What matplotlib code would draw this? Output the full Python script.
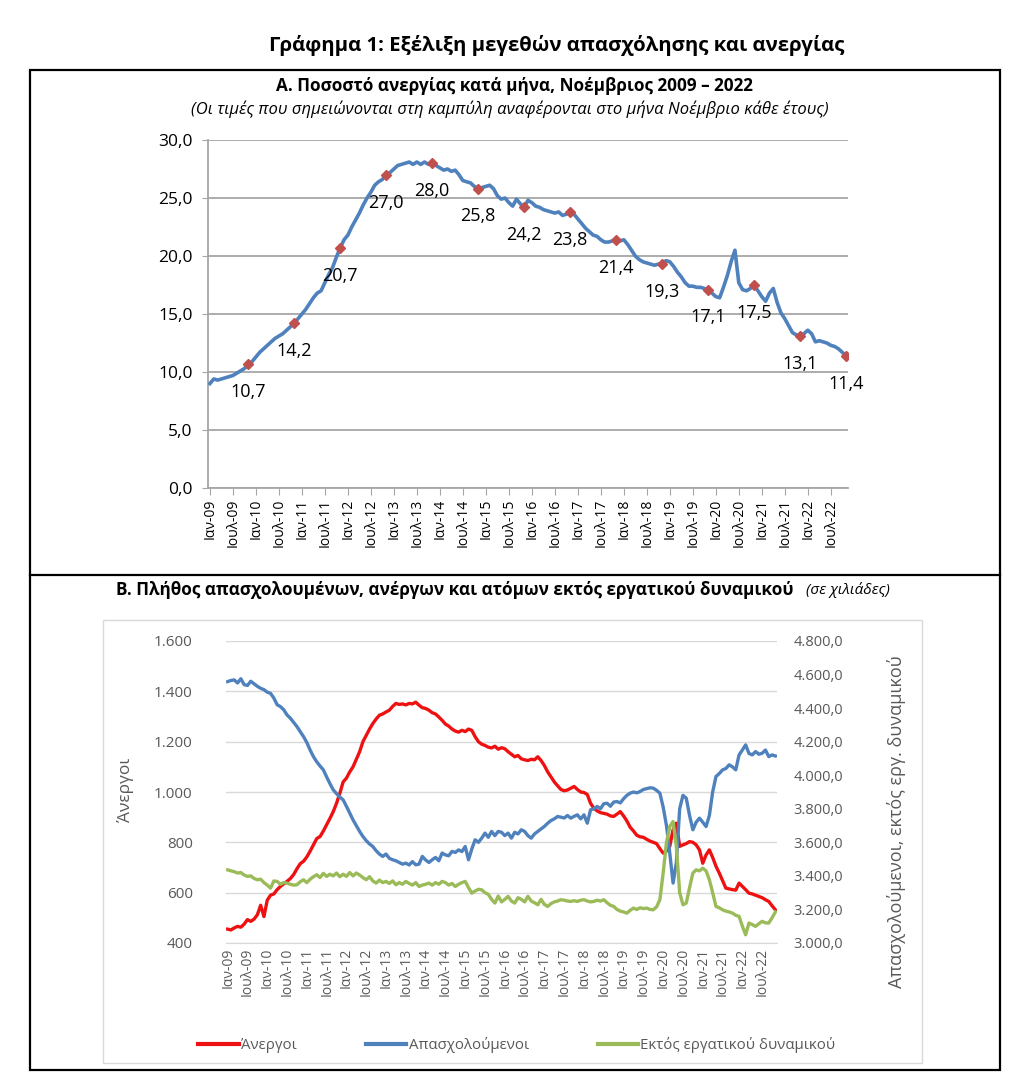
import numpy as np
import matplotlib
matplotlib.use("Agg")
from matplotlib import pyplot as plt
from matplotlib.patches import Rectangle
from matplotlib.lines import Line2D
from matplotlib.ticker import FuncFormatter

plt.rcParams['font.family'] = ['Open Sans', 'DejaVu Sans']

# x axis labels, one every 6 months (Jan-09 ... Jul-22)
tick_labels = []
for yy in range(9, 23):
    tick_labels += ["Ιαν-%02d" % yy, "Ιουλ-%02d" % yy]

# Panel A: unemployment rate per month, Jan 2009 - Nov 2022
rate = [
    9.0, 9.4, 9.3, 9.4, 9.5, 9.6, 9.7, 9.9, 10.1, 10.3, 10.7, 10.9,
    11.3, 11.7, 12.0, 12.3, 12.6, 12.9, 13.1, 13.3, 13.6, 13.9, 14.2, 14.6,
    15.0, 15.4, 15.9, 16.4, 16.8, 17.0, 17.7, 18.4, 19.0, 19.9, 20.7, 21.4,
    21.8, 22.5, 23.1, 23.7, 24.4, 25.0, 25.5, 26.1, 26.4, 26.6, 27.0, 27.2,
    27.5, 27.8, 27.9, 28.0, 28.1, 27.9, 28.1, 27.9, 28.1, 27.9, 28.0, 27.8,
    27.6, 27.4, 27.5, 27.3, 27.4, 27.0, 26.5, 26.4, 26.3, 26.0, 25.8, 25.9,
    26.0, 26.1, 25.8, 25.2, 24.9, 25.0, 24.6, 24.3, 24.9, 24.5, 24.2, 24.8,
    24.6, 24.3, 24.2, 24.0, 23.9, 23.8, 23.7, 23.8, 23.5, 23.6, 23.8, 23.6,
    23.2, 22.8, 22.4, 22.1, 21.8, 21.7, 21.4, 21.2, 21.2, 21.3, 21.4, 21.3,
    21.4, 21.0, 20.5, 20.0, 19.7, 19.5, 19.4, 19.3, 19.2, 19.3, 19.3, 19.6,
    19.5, 19.1, 18.6, 18.2, 17.7, 17.4, 17.4, 17.3, 17.3, 17.2, 17.1, 16.8,
    16.5, 16.4, 17.3, 18.3, 19.5, 20.5, 17.7, 17.1, 17.0, 17.2, 17.5, 17.0,
    16.5, 16.1, 16.8, 17.2, 16.0, 15.1, 14.6, 14.0, 13.4, 13.2, 13.1, 13.3,
    13.6, 13.3, 12.6, 12.7, 12.6, 12.5, 12.3, 12.2, 12.0, 11.7, 11.4,
]
# November of every year is labelled
nov_idx = list(range(10, 167, 12))

# Panel B: thousands of persons
unemployed = [
    455, 452, 460, 466, 463, 475, 493, 486, 495, 512, 550, 505,
    570, 590, 595, 612, 625, 635, 645, 656, 672, 695, 715, 725,
    742, 765, 790, 815, 823, 845, 870, 895, 922, 955, 995, 1040,
    1055, 1080, 1100, 1130, 1160, 1200, 1225, 1250, 1272, 1290, 1305, 1310,
    1318, 1325, 1340, 1352, 1348, 1350, 1346, 1352, 1350, 1357, 1345, 1335,
    1332, 1325, 1315, 1310, 1298, 1285, 1270, 1262, 1250, 1242, 1238, 1245,
    1240, 1250, 1245, 1220, 1200, 1190, 1185, 1178, 1175, 1182, 1170, 1176,
    1172, 1160, 1150, 1140, 1145, 1132, 1128, 1125, 1130, 1128, 1140, 1125,
    1105, 1080, 1060, 1040, 1025, 1010, 1005, 1008, 1015, 1022, 1010, 1000,
    998, 990, 955, 935, 925, 918, 915, 912, 905, 903, 912, 922,
    905, 885, 860, 845, 828, 822, 820, 812, 805, 800, 795, 775,
    757, 765, 784, 850, 876, 784, 790, 795, 803, 800, 790, 770,
    717, 750, 770, 740, 705, 678, 648, 618, 615, 612, 610, 638,
    625, 612, 598, 595, 590, 585, 580, 572, 565, 548, 532,
]
employed = [
    4558, 4565, 4568, 4550, 4575, 4540, 4535, 4560, 4545, 4530, 4518, 4510,
    4495, 4488, 4460, 4420, 4409, 4390, 4359, 4340, 4315, 4290, 4260, 4230,
    4195, 4150, 4111, 4080, 4055, 4032, 3990, 3950, 3913, 3890, 3870, 3853,
    3815, 3775, 3734, 3700, 3665, 3635, 3610, 3590, 3575, 3550, 3530, 3516,
    3530, 3505, 3496, 3490, 3480, 3470, 3476, 3465, 3485, 3466, 3470, 3516,
    3495, 3480, 3496, 3510, 3490, 3536, 3525, 3520, 3546, 3540, 3555, 3545,
    3575, 3496, 3560, 3615, 3600, 3625, 3655, 3630, 3665, 3640, 3665, 3660,
    3640, 3655, 3625, 3660, 3650, 3675, 3665, 3640, 3625, 3650, 3665, 3680,
    3695, 3714, 3730, 3740, 3754, 3750, 3745, 3760, 3744, 3755, 3764, 3740,
    3764, 3714, 3794, 3800, 3814, 3800, 3830, 3833, 3815, 3840, 3843, 3835,
    3860, 3880, 3893, 3900, 3895, 3903, 3915, 3920, 3925, 3923, 3910, 3893,
    3810, 3700, 3536, 3357, 3480, 3800, 3880, 3863, 3760, 3675, 3720, 3744,
    3720, 3694, 3760, 3900, 3992, 4010, 4032, 4040, 4062, 4050, 4032, 4121,
    4150, 4181, 4130, 4121, 4141, 4125, 4131, 4150, 4111, 4121, 4115,
]
inactive = [
    3436, 3430, 3425, 3417, 3420, 3405, 3397, 3400, 3385, 3377, 3380, 3360,
    3345, 3327, 3370, 3367, 3350, 3360, 3357, 3350, 3345, 3347, 3365, 3377,
    3360, 3380, 3395, 3407, 3390, 3415, 3397, 3410, 3400, 3417, 3395, 3410,
    3397, 3420, 3400, 3417, 3405, 3390, 3377, 3395, 3370, 3357, 3375, 3360,
    3367, 3355, 3370, 3347, 3360, 3350, 3367, 3355, 3345, 3360, 3337, 3345,
    3350, 3357, 3345, 3360, 3350, 3367, 3360, 3345, 3355, 3337, 3350, 3360,
    3367, 3330, 3297, 3310, 3320, 3317, 3300, 3290, 3260, 3238, 3280, 3245,
    3260, 3278, 3250, 3238, 3270, 3260, 3245, 3278, 3250, 3240, 3228, 3260,
    3230, 3218, 3235, 3245, 3250, 3258, 3255, 3250, 3248, 3252, 3248, 3255,
    3258, 3250, 3245, 3248, 3255, 3250, 3258, 3240, 3225, 3218, 3200, 3190,
    3185, 3178, 3195, 3208, 3200, 3210, 3205, 3208, 3200, 3198, 3215, 3258,
    3417, 3600, 3694, 3724, 3575, 3300, 3228, 3238, 3330, 3417, 3436, 3430,
    3446, 3430, 3377, 3300, 3218, 3210, 3198, 3190, 3185, 3178, 3165, 3159,
    3100, 3049, 3119, 3110, 3099, 3115, 3129, 3120, 3119, 3150, 3185,
]


def gr(v, dec):
    # greek number format: 4.800,0
    s = f"{v:,.{dec}f}"
    return s.replace(",", "X").replace(".", ",").replace("X", ".")


W, H = 1024, 1088
fig = plt.figure(figsize=(W / 100, H / 100), dpi=100)
fig.patch.set_facecolor('white')


def fx(px):
    return px / W


def fy(py):
    return 1 - py / H


# frames
fig.add_artist(Rectangle((fx(30), fy(1070)), fx(970), 1000 / H, transform=fig.transFigure,
                         fill=False, ec='black', lw=1.6))
fig.add_artist(Line2D([fx(30), fx(1000)], [fy(575), fy(575)], transform=fig.transFigure,
                      color='black', lw=1.6))
fig.add_artist(Rectangle((fx(103), fy(1063)), fx(819), (1063 - 620) / H, transform=fig.transFigure,
                         fill=False, ec='#D9D9D9', lw=1.0))

fig.text(fx(557), fy(45), "Γράφημα 1: Εξέλιξη μεγεθών απασχόλησης και ανεργίας",
         ha='center', va='center', fontsize=14.7, fontweight='bold')

# ---------------- Panel A ----------------
fig.text(fx(514), fy(86), "Α. Ποσοστό ανεργίας κατά μήνα, Νοέμβριος 2009 – 2022",
         ha='center', va='center', fontsize=12.3, fontweight='bold')
fig.text(fx(510), fy(109), "(Οι τιμές που σημειώνονται στη καμπύλη αναφέρονται στο μήνα Νοέμβριο κάθε έτους)",
         ha='center', va='center', fontsize=12, style='italic')

x = np.arange(len(rate))
axA = fig.add_axes([fx(208), fy(488), fx(640), (488 - 140) / H])
axA.plot(x, rate, color='#4F81BD', lw=2.6, zorder=3)
nov_vals = [rate[i] for i in nov_idx]
axA.plot(nov_idx, nov_vals, 'D', color='#C0504D', ms=5.5, zorder=4)
for i, v in zip(nov_idx, nov_vals):
    axA.annotate(gr(v, 1), (i, v), xytext=(0, -20), textcoords='offset points',
                 ha='center', va='center', fontsize=13)
axA.set_xlim(-0.5, len(rate) - 0.5)
axA.set_ylim(0, 30)
axA.set_yticks(np.arange(0, 31, 5))
axA.yaxis.set_major_formatter(FuncFormatter(lambda v, p: gr(v, 1)))
axA.set_xticks(np.arange(0, 166, 6))
axA.set_xticklabels(tick_labels, rotation=90, fontsize=10)
axA.tick_params(axis='y', labelsize=12.5, length=4, color='#A6A6A6', pad=7)
axA.tick_params(axis='x', length=5, color='#A6A6A6', pad=3)
axA.grid(axis='y', color='#A6A6A6', lw=1.3)
axA.set_axisbelow(True)
for s in ['top', 'right']:
    axA.spines[s].set_visible(False)
for s in ['left', 'bottom']:
    axA.spines[s].set_color('#A6A6A6')
    axA.spines[s].set_linewidth(1.3)

# ---------------- Panel B ----------------
tB = fig.text(fx(116), fy(590), "Β. Πλήθος απασχολουμένων, ανέργων και ατόμων εκτός εργατικού δυναμικού",
              ha='left', va='center', fontsize=12.3, fontweight='bold')
fig.canvas.draw()
bb = tB.get_window_extent()
fig.text((bb.x1 + 12) / W, fy(590), "(σε χιλιάδες)", ha='left', va='center',
         fontsize=11, style='italic')

gray = '#595959'
xb = np.arange(len(unemployed))
axB = fig.add_axes([fx(226), fy(943), fx(551), (943 - 641) / H])
axB.plot(xb, unemployed, color='#EE1111', lw=2.4)
axB.set_ylim(400, 1600)
axB.set_yticks(np.arange(400, 1601, 200))
axB.yaxis.set_major_formatter(FuncFormatter(lambda v, p: gr(v, 0)))
axB.set_xlim(-0.5, len(unemployed) - 0.5)
axB.set_xticks(np.arange(0, 166, 6))
axB.set_xticklabels(tick_labels, rotation=90, fontsize=10, color=gray)
axB.tick_params(axis='both', length=0, labelcolor=gray)
axB.tick_params(axis='y', labelsize=11, pad=24)
axB.grid(axis='y', color='#D9D9D9', lw=1.0)
axB.set_axisbelow(True)
for s in ['top', 'right', 'left']:
    axB.spines[s].set_visible(False)
axB.spines['bottom'].set_color('#D9D9D9')

axB2 = axB.twinx()
axB2.plot(xb, employed, color='#4F81BD', lw=2.4)
axB2.plot(xb, inactive, color='#9BBB59', lw=2.4)
axB2.set_ylim(3000, 4800)
axB2.set_yticks(np.arange(3000, 4801, 200))
axB2.yaxis.set_major_formatter(FuncFormatter(lambda v, p: gr(v, 1)))
axB2.tick_params(axis='y', length=0, labelcolor=gray, labelsize=10.5, pad=12)
for s in axB2.spines.values():
    s.set_visible(False)

fig.text(fx(125), fy(790), "Άνεργοι", rotation=90, ha='center', va='center',
         fontsize=12.5, color=gray)
fig.text(fx(896), fy(822), "Απασχολούμενοι, εκτός εργ. δυναμικού", rotation=90,
         ha='center', va='center', fontsize=13, color=gray)

handles = [Line2D([], [], color='#EE1111', lw=3),
           Line2D([], [], color='#4F81BD', lw=3),
           Line2D([], [], color='#9BBB59', lw=3)]
fig.legend(handles, ["Άνεργοι", "Απασχολούμενοι", "Εκτός εργατικού δυναμικού"],
           loc='center', bbox_to_anchor=(fx(517), fy(1045)), ncol=3, frameon=False,
           handlelength=2.7, handletextpad=0.15, columnspacing=4.6, labelcolor=gray, fontsize=10.8)

fig.savefig("out.png", dpi=100, facecolor='white')
